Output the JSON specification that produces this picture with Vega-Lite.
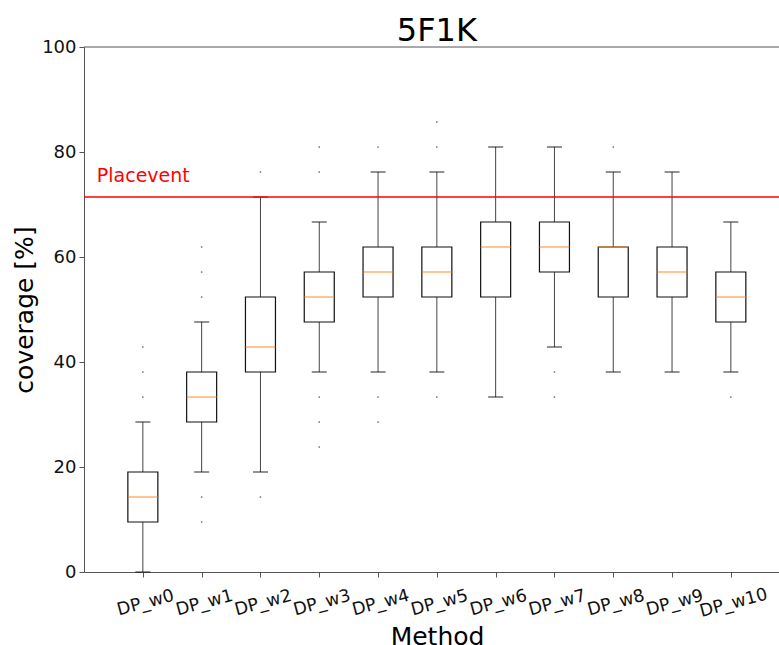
{
  "$schema": "https://vega.github.io/schema/vega-lite/v6.json",
  "autosize": {"type": "none"},
  "width": 695,
  "height": 525,
  "padding": {"left": 84, "top": 47, "right": 0, "bottom": 73},
  "background": "white",
  "datasets": {
    "stats": [
      {"method": "DP_w0", "lower": 0, "q1": 9.524, "median": 14.286, "q3": 19.048, "upper": 28.571},
      {"method": "DP_w1", "lower": 19.048, "q1": 28.571, "median": 33.333, "q3": 38.095, "upper": 47.619},
      {"method": "DP_w2", "lower": 19.048, "q1": 38.095, "median": 42.857, "q3": 52.381, "upper": 71.429},
      {"method": "DP_w3", "lower": 38.095, "q1": 47.619, "median": 52.381, "q3": 57.143, "upper": 66.667},
      {"method": "DP_w4", "lower": 38.095, "q1": 52.381, "median": 57.143, "q3": 61.905, "upper": 76.19},
      {"method": "DP_w5", "lower": 38.095, "q1": 52.381, "median": 57.143, "q3": 61.905, "upper": 76.19},
      {"method": "DP_w6", "lower": 33.333, "q1": 52.381, "median": 61.905, "q3": 66.667, "upper": 80.952},
      {"method": "DP_w7", "lower": 42.857, "q1": 57.143, "median": 61.905, "q3": 66.667, "upper": 80.952},
      {"method": "DP_w8", "lower": 38.095, "q1": 52.381, "median": 61.905, "q3": 61.905, "upper": 76.19},
      {"method": "DP_w9", "lower": 38.095, "q1": 52.381, "median": 57.143, "q3": 61.905, "upper": 76.19},
      {"method": "DP_w10", "lower": 38.095, "q1": 47.619, "median": 52.381, "q3": 57.143, "upper": 66.667}
    ],
    "outliers": [
      {"method": "DP_w0", "value": 33.333},
      {"method": "DP_w0", "value": 38.095},
      {"method": "DP_w0", "value": 42.857},
      {"method": "DP_w1", "value": 9.524},
      {"method": "DP_w1", "value": 14.286},
      {"method": "DP_w1", "value": 52.381},
      {"method": "DP_w1", "value": 57.143},
      {"method": "DP_w1", "value": 61.905},
      {"method": "DP_w2", "value": 14.286},
      {"method": "DP_w2", "value": 76.19},
      {"method": "DP_w3", "value": 23.81},
      {"method": "DP_w3", "value": 28.571},
      {"method": "DP_w3", "value": 33.333},
      {"method": "DP_w3", "value": 76.19},
      {"method": "DP_w3", "value": 80.952},
      {"method": "DP_w4", "value": 28.571},
      {"method": "DP_w4", "value": 33.333},
      {"method": "DP_w4", "value": 80.952},
      {"method": "DP_w5", "value": 33.333},
      {"method": "DP_w5", "value": 80.952},
      {"method": "DP_w5", "value": 85.714},
      {"method": "DP_w7", "value": 33.333},
      {"method": "DP_w7", "value": 38.095},
      {"method": "DP_w8", "value": 80.952},
      {"method": "DP_w10", "value": 33.333}
    ]
  },
  "encoding": {
    "x": {
      "field": "method",
      "type": "nominal",
      "sort": ["DP_w0", "DP_w1", "DP_w2", "DP_w3", "DP_w4", "DP_w5", "DP_w6", "DP_w7", "DP_w8", "DP_w9", "DP_w10"],
      "scale": {"type": "point", "padding": 0.91, "align": 0.55, "domain": ["DP_w0", "DP_w1", "DP_w2", "DP_w3", "DP_w4", "DP_w5", "DP_w6", "DP_w7", "DP_w8", "DP_w9", "DP_w10"]},
      "axis": {
        "title": "Method",
        "titleFontSize": 25,
        "titleFontWeight": "normal",
        "titleColor": "black",
        "titleFont": "DejaVu Sans",
        "titleX": 353,
        "titlePadding": 5,
        "labelFont": "DejaVu Sans",
        "labelFontSize": 17.5,
        "labelColor": "#111",
        "labelAngle": -15,
        "labelAlign": "center",
        "labelBaseline": "top",
        "labelPadding": 17,
        "tickSize": 5,
        "tickColor": "#555",
        "domainColor": "#555",
        "grid": false
      }
    }
  },
  "layer": [
    {
      "data": {"name": "stats"},
      "mark": {"type": "rule", "color": "#444", "strokeWidth": 1},
      "encoding": {
        "y": {"field": "lower", "type": "quantitative", "scale": {"domain": [0, 100], "nice": false},
          "axis": {"title": "coverage [%]", "values": [0, 20, 40, 60, 80, 100], "grid": false,
            "titleFontSize": 25, "titleFontWeight": "normal", "titleColor": "black", "titleFont": "DejaVu Sans", "titlePadding": 4,
            "labelFont": "DejaVu Sans", "labelFontSize": 18, "labelColor": "#111", "labelPadding": 3,
            "tickSize": 5, "tickColor": "#555", "domainColor": "#555"}},
        "y2": {"field": "q1"}
      }
    },
    {
      "data": {"name": "stats"},
      "mark": {"type": "rule", "color": "#444", "strokeWidth": 1},
      "encoding": {
        "y": {"field": "q3", "type": "quantitative"},
        "y2": {"field": "upper"}
      }
    },
    {
      "data": {"name": "stats"},
      "mark": {"type": "bar", "size": 30, "fill": "white", "stroke": "#111", "strokeWidth": 1.2},
      "encoding": {
        "y": {"field": "q1", "type": "quantitative"},
        "y2": {"field": "q3"}
      }
    },
    {
      "data": {"name": "stats"},
      "mark": {"type": "tick", "orient": "horizontal", "size": 30, "thickness": 1.3, "color": "#ff7f0e"},
      "encoding": {"y": {"field": "median", "type": "quantitative"}}
    },
    {
      "data": {"name": "stats"},
      "mark": {"type": "tick", "orient": "horizontal", "size": 15, "thickness": 1.3, "color": "#111"},
      "encoding": {"y": {"field": "lower", "type": "quantitative"}}
    },
    {
      "data": {"name": "stats"},
      "mark": {"type": "tick", "orient": "horizontal", "size": 15, "thickness": 1.3, "color": "#111"},
      "encoding": {"y": {"field": "upper", "type": "quantitative"}}
    },
    {
      "data": {"name": "outliers"},
      "mark": {"type": "circle", "size": 3, "color": "#666", "opacity": 1},
      "encoding": {"y": {"field": "value", "type": "quantitative"}}
    },
    {
      "data": {"values": [{"ref": 71.429}]},
      "mark": {"type": "rule", "color": "#ff0000", "strokeWidth": 1.5},
      "encoding": {"x": null, "y": {"field": "ref", "type": "quantitative"}}
    },
    {
      "data": {"values": [{"top": 100}]},
      "mark": {"type": "rule", "color": "#555", "strokeWidth": 1},
      "encoding": {"x": null, "y": {"field": "top", "type": "quantitative"}}
    },
    {
      "data": {"values": [{"label": "Placevent", "method": "DP_w0", "pos": 74.3}]},
      "mark": {"type": "text", "color": "#ff0000", "font": "DejaVu Sans", "fontSize": 19, "align": "left", "baseline": "alphabetic", "dx": -46},
      "encoding": {"y": {"field": "pos", "type": "quantitative"}, "text": {"field": "label"}}
    },
    {
      "data": {"values": [{"label": "5F1K", "method": "DP_w5", "pos": 100}]},
      "mark": {"type": "text", "color": "black", "font": "DejaVu Sans", "fontSize": 32, "align": "center", "baseline": "alphabetic", "dy": -6},
      "encoding": {"y": {"field": "pos", "type": "quantitative"}, "text": {"field": "label"}}
    }
  ],
  "config": {"view": {"stroke": null}}
}
